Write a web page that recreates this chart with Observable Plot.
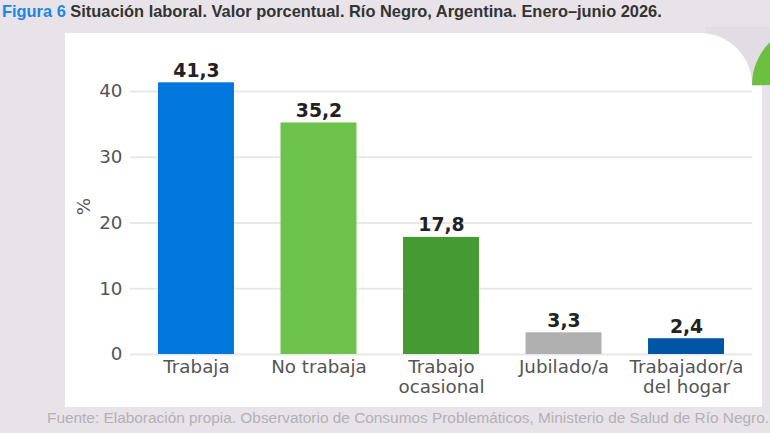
<!DOCTYPE html>
<html>
<head>
<meta charset="utf-8">
<script src="https://cdn.jsdelivr.net/npm/d3@7"></script>
<script src="https://cdn.jsdelivr.net/npm/@observablehq/plot@0.6"></script>
<style>
  html, body { margin: 0; padding: 0; }
  body { width: 770px; height: 433px; background: #e8e3e9; position: relative; overflow: hidden; font-family: "Liberation Sans", Arial, sans-serif; }
  #title { position: absolute; left: 2px; top: 2px; font-size: 16.4px; font-weight: bold; color: #333; white-space: nowrap; }
  #title .fig { color: #1d86e0; }
  #caption { position: absolute; left: 47px; top: 409px; font-size: 15.4px; color: #b3b0b5; white-space: nowrap; }
  .shade { position: absolute; left: 705px; top: 27px; width: 65px; height: 60px; background: #e2dde5; }
  .greenclip { position: absolute; left: 700px; top: 0px; width: 70px; height: 85px; overflow: hidden; }
  .green { position: absolute; left: 52px; top: 25px; width: 120px; height: 120px; border-radius: 50%; background: #6dbf3f; }
  .card { position: absolute; left: 65px; top: 33px; width: 687px; height: 374px; background: #fff; border-top-right-radius: 52px; }
  .card2 { position: absolute; left: 740px; top: 86px; width: 22px; height: 321px; background: #fff; }
  #chart { position: absolute; left: 0; top: 0; }
</style>
</head>
<body>
<div class="shade"></div>
<div class="greenclip"><div class="green"></div></div>
<div class="card"></div>
<div class="card2"></div>
<div id="chart"></div>
<div id="title"><span class="fig">Figura 6</span> Situación laboral. Valor porcentual. Río Negro, Argentina. Enero–junio 2026.</div>
<div id="caption">Fuente: Elaboración propia. Observatorio de Consumos Problemáticos, Ministerio de Salud de Río Negro.</div>
<script>
const categories = ["Trabaja", "No trabaja", "Trabajo ocasional", "Jubilado/a", "Trabajador/a del hogar"];
const values = [41.3, 35.2, 17.8, 3.3, 2.4];
const tickLabels = ["Trabaja", "No trabaja", "Trabajo\nocasional", "Jubilado/a", "Trabajador/a\ndel hogar"];
const yTicks = [0, 10, 20, 30, 40];

const data = categories.map((c, i) => ({cat: c, value: values[i], label: String(values[i]).replace(".", ",")}));
const labelOf = new Map(categories.map((c, i) => [c, tickLabels[i]]));

const chart = Plot.plot({
  width: 770,
  height: 433,
  marginLeft: 130,
  marginRight: 18,
  marginTop: 58,
  marginBottom: 79,
  style: {background: "transparent", fontFamily: "DejaVu Sans", fontSize: "18.3px", color: "#555"},
  x: {domain: categories, paddingInner: 0.38, paddingOuter: 0.2286, round: false},
  y: {domain: [0, 45]},
  color: {domain: categories, range: ["#0077dd", "#6cc24a", "#459a33", "#b0b0b0", "#0055a5"]},
  marks: [
    Plot.gridY(yTicks, {stroke: "#e8e8e8", strokeOpacity: 1, strokeWidth: 2}),
    Plot.barY(data, {x: "cat", y: "value", fill: "cat"}),
    Plot.text(data, {x: "cat", y: "value", text: "label", lineAnchor: "bottom", dy: -6, fontWeight: "bold", fontSize: 18.8, fill: "#222"}),
    Plot.axisX({tickSize: 0, tickPadding: 4, tickFormat: d => labelOf.get(d), label: null, lineHeight: 1.1, fill: "#555"}),
    Plot.axisY(yTicks, {tickSize: 0, tickPadding: 8, label: "%", labelAnchor: "center", labelArrow: "none", labelOffset: 54, fill: "#555"})
  ]
});
document.getElementById("chart").appendChild(chart);
</script>
</body>
</html>
